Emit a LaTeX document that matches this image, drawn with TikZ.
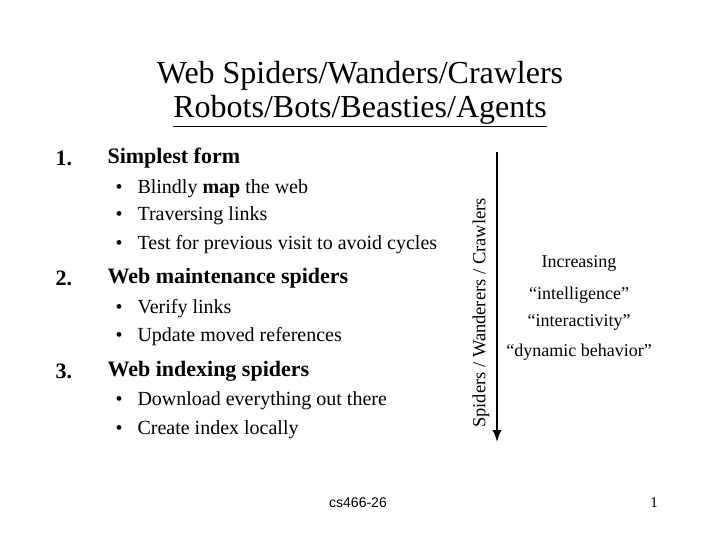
\documentclass[tikz,border=0pt]{standalone}
\usepackage{fontspec}
\usetikzlibrary{arrows.meta}
\setmainfont{Liberation Serif}
\newfontfamily\arialf{Liberation Sans}
\begin{document}
\begin{tikzpicture}[x=1pt,y=-1pt,
  title/.style={font=\fontsize{32}{34}\selectfont},
  head/.style={anchor=west,font=\bfseries\fontsize{22}{24}\selectfont},
  item/.style={anchor=west,font=\fontsize{20}{22}\selectfont},
  side/.style={font=\fontsize{18}{20}\selectfont}]
\useasboundingbox (0,0) rectangle (720,540);
\node[title] (t1) at (360,76) {Web Spiders/Wanders/Crawlers};
\node[title] (t2) at (360,111) {\underline{Robots/Bots/Beasties/Agents}};
\node[head] (n1) at (52,158) {1.};
\node[head] (h1) at (104,158) {Simplest form};
\node[item] (b1) at (112,189) {•}; \node[item] (i1) at (134,189) {Blindly \textbf{map} the web};
\node[item] (b2) at (112,216) {•}; \node[item] (i2) at (134,216) {Traversing links};
\node[item] (b3) at (112,245) {•}; \node[item] (i3) at (134,245) {Test for previous visit to avoid cycles};
\node[head] (n2) at (52,278) {2.};
\node[head] (h2) at (104,278) {Web maintenance spiders};
\node[item] (b4) at (112,309) {•}; \node[item] (i4) at (134,309) {Verify links};
\node[item] (b5) at (112,337) {•}; \node[item] (i5) at (134,337) {Update moved references};
\node[head] (n3) at (52,371) {3.};
\node[head] (h3) at (104,371) {Web indexing spiders};
\node[item] (b6) at (112,401) {•}; \node[item] (i6) at (134,401) {Download everything out there};
\node[item] (b7) at (112,430) {•}; \node[item] (i7) at (134,430) {Create index locally};
\coordinate (a1) at (497,152);
\coordinate (a2) at (497,442);
\draw[line width=1.5pt,-{Latex[length=12pt,width=9pt]}] (a1) -- (a2);
\node[rotate=90,font=\fontsize{18.5}{20}\selectfont] (sp) at (481,313) {Spiders / Wanderers / Crawlers};
\node[side] (r1) at (579,263) {Increasing};
\node[side] (r2) at (579,295) {“intelligence”};
\node[side] (r3) at (579,322) {“interactivity”};
\node[side] (r4) at (579,352) {“dynamic behavior”};
\node[font=\arialf\fontsize{14}{16}\selectfont] (f1) at (358,503) {cs466-26};
\node[font=\fontsize{15}{17}\selectfont] (f2) at (654,503) {1};
\end{tikzpicture}
\end{document}
